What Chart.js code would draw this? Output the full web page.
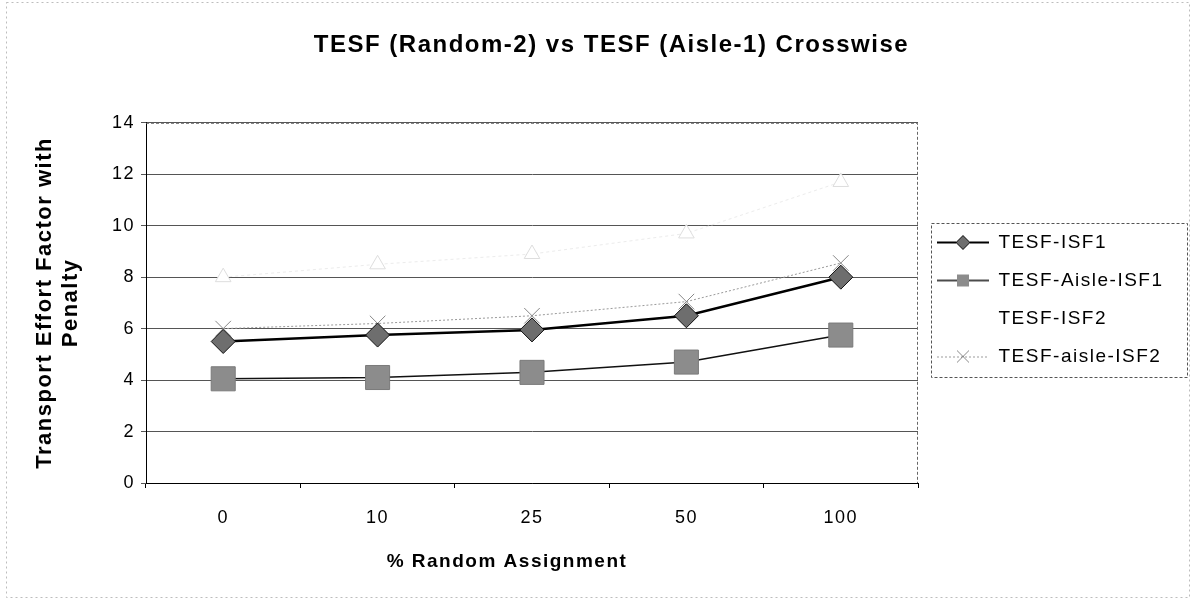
<!DOCTYPE html>
<html><head><meta charset="utf-8">
<script src="https://cdn.jsdelivr.net/npm/chart.js@4.4.1/dist/chart.umd.min.js"></script>
<style>html,body{margin:0;padding:0;background:#fff;overflow:hidden}</style>
</head><body>
<canvas id="c" width="1195" height="599"></canvas>
<script>
// ---- data ----
const categories = ['0', '10', '25', '50', '100'];
const tesfIsf1 = [5.5, 5.75, 5.95, 6.5, 8.0];
const tesfAisleIsf1 = [4.05, 4.1, 4.3, 4.7, 5.75];
const tesfIsf2 = [8.0, 8.5, 8.9, 9.7, 11.7];
const tesfAisleIsf2 = [6.0, 6.2, 6.5, 7.05, 8.55];
const seriesNames = ['TESF-ISF1', 'TESF-Aisle-ISF1', 'TESF-ISF2', 'TESF-aisle-ISF2'];
const yMin = 0, yMax = 14, yStep = 2;
const chartTitle = 'TESF (Random-2) vs TESF (Aisle-1) Crosswise';
const xTitle = '% Random Assignment';
const yTitle = ['Transport Effort Factor with', 'Penalty'];

const FONT = "'Liberation Sans', Arial, Helvetica, sans-serif";
const SPACING = '1.5px';

function icon(draw) {
  const c = document.createElement('canvas');
  c.width = 52; c.height = 24;
  draw(c.getContext('2d'));
  return c;
}
const icons = [
  icon(g => {
    g.strokeStyle = '#000'; g.lineWidth = 2;
    g.beginPath(); g.moveTo(0, 12); g.lineTo(52, 12); g.stroke();
    g.beginPath(); g.moveTo(26, 5); g.lineTo(33, 12); g.lineTo(26, 19); g.lineTo(19, 12); g.closePath();
    g.fillStyle = '#6e6e6e'; g.fill(); g.lineWidth = 1; g.strokeStyle = '#111'; g.stroke();
  }),
  icon(g => {
    g.strokeStyle = '#111'; g.lineWidth = 1.5;
    g.beginPath(); g.moveTo(0, 12); g.lineTo(52, 12); g.stroke();
    g.fillStyle = '#8c8c8c'; g.fillRect(20, 6, 12, 12);
  }),
  icon(g => {}),
  icon(g => {
    g.strokeStyle = '#9a9a9a'; g.lineWidth = 1; g.setLineDash([2, 2]);
    g.beginPath(); g.moveTo(0, 12.5); g.lineTo(52, 12.5); g.stroke();
    g.setLineDash([]); g.strokeStyle = '#888';
    g.beginPath(); g.moveTo(20, 6); g.lineTo(32, 18); g.moveTo(32, 6); g.lineTo(20, 18); g.stroke();
  })
];

const decor = {
  id: 'decor',
  beforeUpdate(chart) {
    chart.ctx.letterSpacing = SPACING;
    const lg = chart.legend;
    if (lg && !lg._patched) {
      const f = lg.fit;
      lg.fit = function () { f.call(this); this.width = 277; };
      lg._patched = true;
    }
  },
  beforeLayout(chart) { chart.ctx.letterSpacing = SPACING; },
  beforeDraw(chart) {
    const ctx = chart.ctx;
    ctx.letterSpacing = SPACING;
    ctx.save();
    ctx.fillStyle = '#fff';
    ctx.fillRect(0, 0, chart.width, chart.height);
    ctx.strokeStyle = '#bdbdbd'; ctx.lineWidth = 1; ctx.setLineDash([2, 3]);
    ctx.strokeRect(6.5, 2.5, 1183, 595);
    ctx.restore();
    const sx = chart.scales.x;
    if (sx && !sx._patched) {
      const o = sx.drawTitle;
      sx.drawTitle = function () { this.ctx.save(); this.ctx.translate(-25, 0); o.apply(this, arguments); this.ctx.restore(); };
      sx._patched = true;
    }
  },
  beforeDatasetsDraw(chart) {
    const {ctx, chartArea: a} = chart;
    ctx.save();
    ctx.strokeStyle = '#666'; ctx.lineWidth = 1; ctx.setLineDash([3, 2]);
    ctx.beginPath();
    ctx.moveTo(a.left, a.top + 0.5); ctx.lineTo(a.right - 0.5, a.top + 0.5); ctx.lineTo(a.right - 0.5, a.bottom);
    ctx.stroke();
    ctx.restore();
  },
  afterDraw(chart) {
    const lg = chart.legend;
    if (!lg || !lg.legendHitBoxes || !lg.legendHitBoxes.length) return;
    const hb = lg.legendHitBoxes;
    const first = hb[0], last = hb[hb.length - 1];
    const top = Math.round(first.top + first.height / 2 - 20) + 0.5;
    const bottom = Math.round(last.top + last.height / 2 + 20) + 0.5;
    const left = 931.5;
    const right = 1187.5;
    const ctx = chart.ctx;
    ctx.save();
    ctx.strokeStyle = '#555'; ctx.lineWidth = 1; ctx.setLineDash([3, 2]);
    ctx.strokeRect(left, top, right - left, bottom - top);
    ctx.restore();
  }
};

new Chart(document.getElementById('c'), {
  type: 'line',
  data: {
    labels: categories,
    datasets: [
      { label: seriesNames[0], data: tesfIsf1, borderColor: '#000', borderWidth: 2.5,
        pointStyle: 'rectRot', pointRadius: 12, pointBackgroundColor: '#6e6e6e',
        pointBorderColor: '#111', pointBorderWidth: 1, tension: 0 },
      { label: seriesNames[1], data: tesfAisleIsf1, borderColor: '#111', borderWidth: 1.5,
        pointStyle: 'rect', pointRadius: 17, pointBackgroundColor: '#8c8c8c',
        pointBorderColor: '#7a7a7a', pointBorderWidth: 1, tension: 0 },
      { label: seriesNames[2], data: tesfIsf2, borderColor: '#ececec', borderWidth: 1, borderDash: [3, 3],
        pointStyle: 'triangle', pointRadius: 9, pointBackgroundColor: '#fff',
        pointBorderColor: '#dedede', pointBorderWidth: 1, tension: 0 },
      { label: seriesNames[3], data: tesfAisleIsf2, borderColor: '#9a9a9a', borderWidth: 1, borderDash: [2, 2],
        pointStyle: 'crossRot', pointRadius: 11, pointBorderColor: '#888',
        pointBorderWidth: 1, tension: 0 }
    ]
  },
  options: {
    responsive: false,
    devicePixelRatio: 1,
    animation: false,
    events: [],
    layout: { padding: { left: 28, right: 0, top: 0, bottom: 0 } },
    plugins: {
      tooltip: { enabled: false },
      title: {
        display: true, text: chartTitle, color: '#000',
        font: { family: FONT, size: 24, weight: 'bold', lineHeight: 1.2 },
        padding: { top: 31, bottom: 63 }
      },
      legend: {
        position: 'right', align: 'center',
        labels: {
          usePointStyle: true, pointStyleWidth: 52, padding: 19, color: '#000',
          font: { family: FONT, size: 19 },
          generateLabels: chart => chart.data.datasets.map((ds, i) => ({
            text: ds.label, pointStyle: icons[i], datasetIndex: i, hidden: false,
            lineWidth: 0, fillStyle: 'rgba(0,0,0,0)', strokeStyle: 'rgba(0,0,0,0)', fontColor: '#000'
          }))
        }
      }
    },
    scales: {
      x: {
        offset: true,
        grid: { display: true, drawOnChartArea: false, offset: true, tickLength: 5, color: '#000' },
        border: { display: true, color: '#000', width: 1 },
        ticks: { color: '#000', padding: 19, font: { family: FONT, size: 18 } },
        title: { display: true, text: xTitle, color: '#000',
          font: { family: FONT, size: 19, weight: 'bold', lineHeight: 1.2 },
          padding: { top: 0, bottom: 26 } },
        afterFit: s => { s.height = 116; }
      },
      y: {
        min: yMin, max: yMax,
        grid: { color: '#555', tickLength: 5, lineWidth: 1 },
        border: { display: true, color: '#000', width: 1 },
        ticks: { stepSize: yStep, color: '#000', padding: 6, font: { family: FONT, size: 18 } },
        title: { display: true, text: yTitle, color: '#000',
          font: { family: FONT, size: 22, weight: 'bold', lineHeight: 1.18 },
          padding: { top: 4, bottom: 0 } },
        afterFit: s => { s.width = 118; }
      }
    }
  },
  plugins: [decor]
});
</script>
</body></html>
